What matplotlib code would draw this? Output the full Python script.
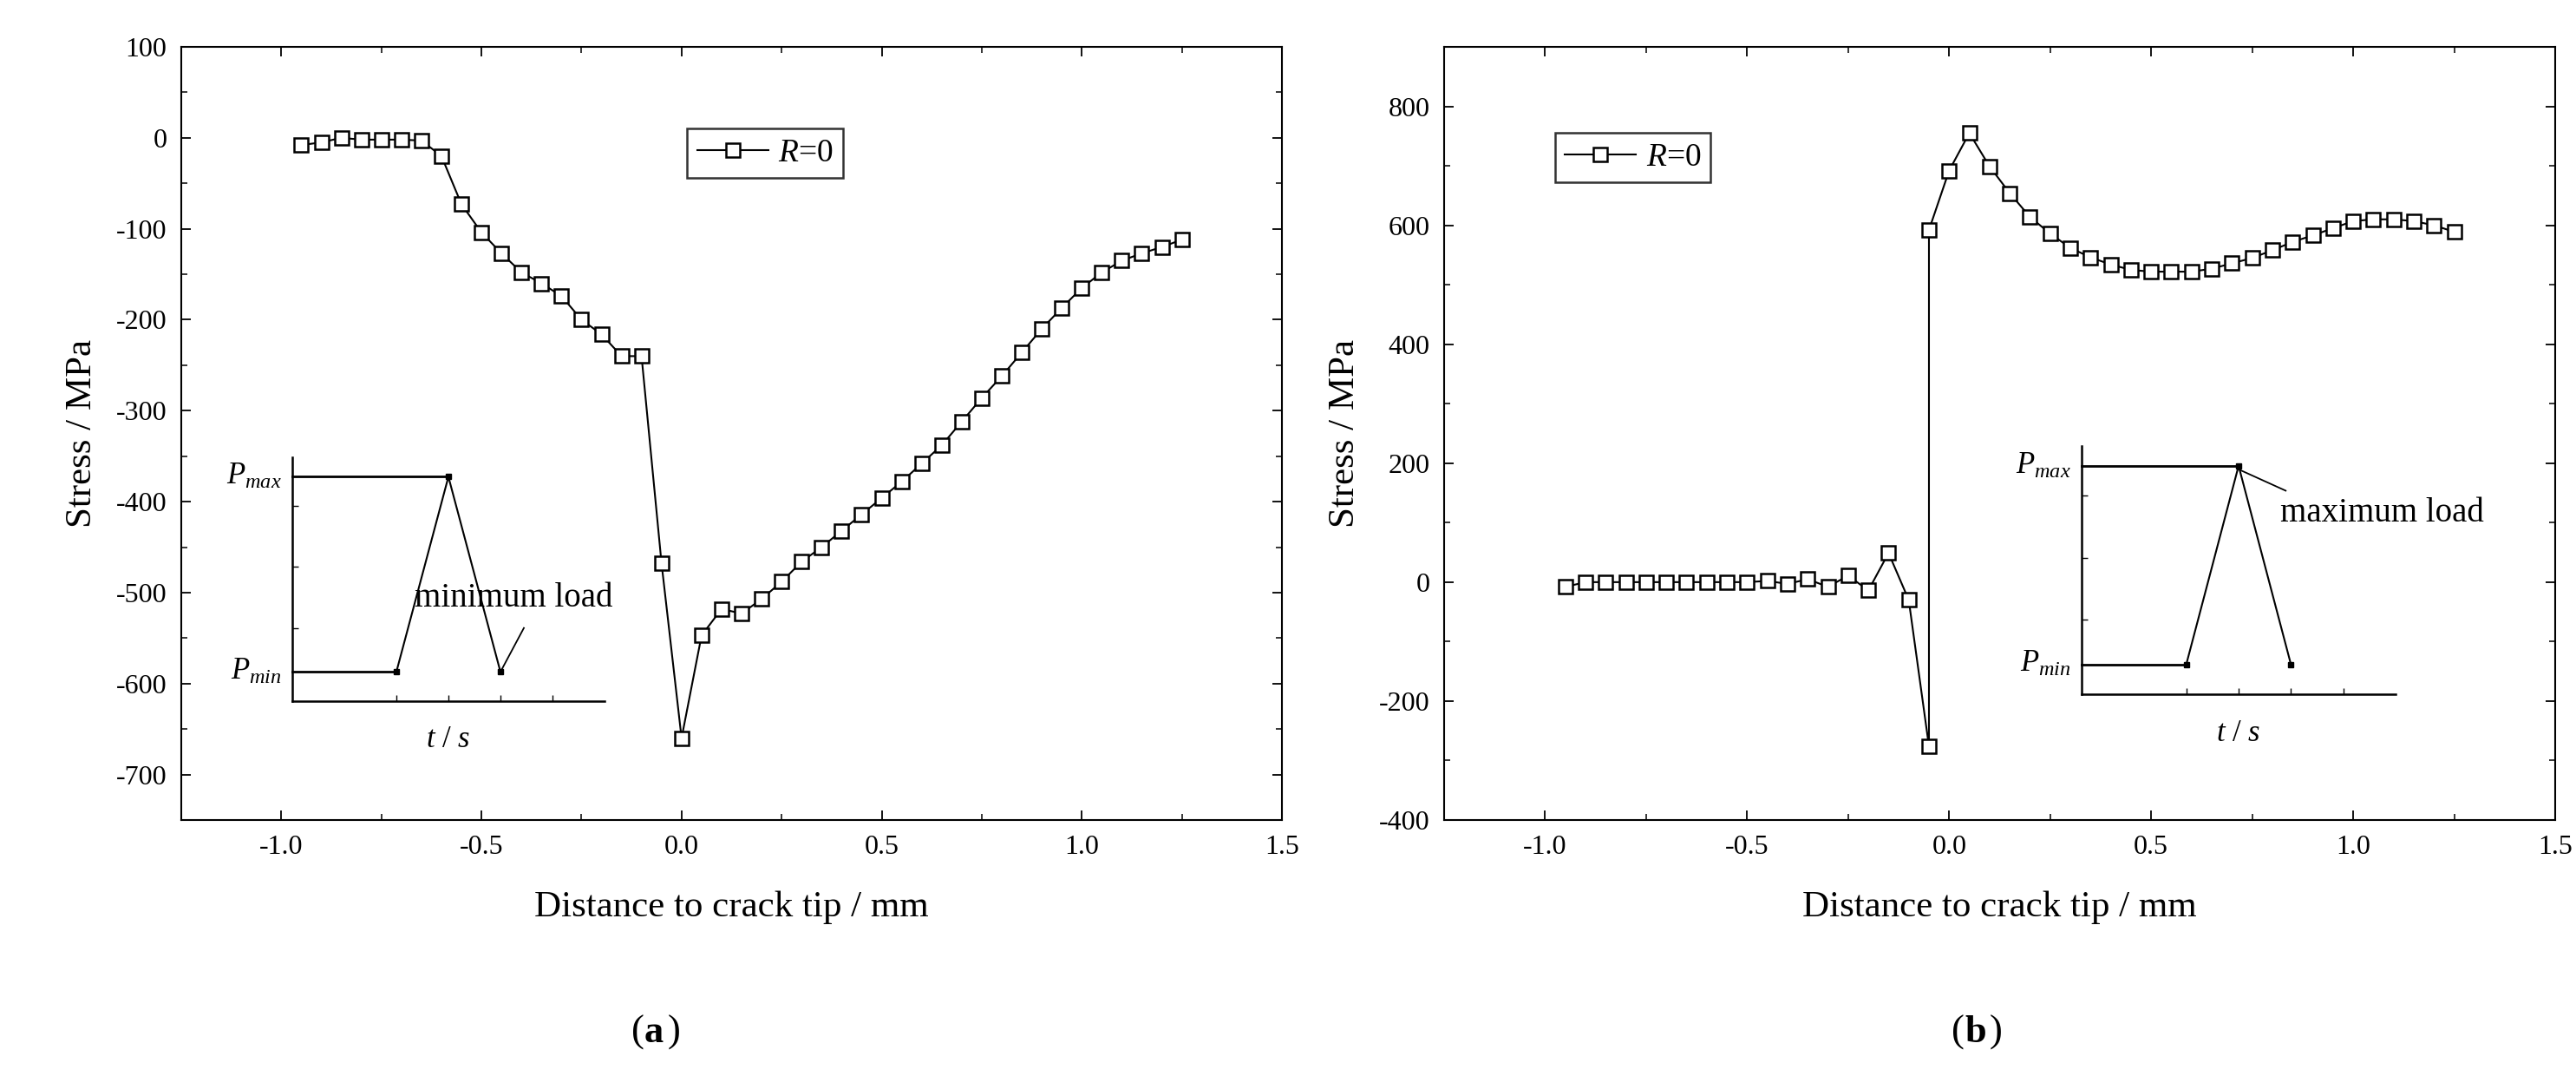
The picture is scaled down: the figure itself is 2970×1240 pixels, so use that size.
import numpy as np
import matplotlib
matplotlib.use("Agg")
import matplotlib.pyplot as plt
from matplotlib.ticker import MultipleLocator

plt.rcParams['font.family'] = ['Liberation Serif', 'DejaVu Serif']
plt.rcParams['mathtext.fontset'] = 'custom'
plt.rcParams['mathtext.it'] = 'Liberation Serif:italic'
plt.rcParams['mathtext.rm'] = 'Liberation Serif'
plt.rcParams['axes.unicode_minus'] = False

# Panel (a) data
xa = [-0.95,-0.9,-0.85,-0.8,-0.75,-0.7,-0.65,-0.6,-0.55,-0.5,-0.45,-0.4,-0.35,-0.3,-0.25,-0.2,-0.15,-0.1,-0.05,
      0.0,0.05,0.1,0.15,0.2,0.25,0.3,0.35,0.4,0.45,0.5,0.55,0.6,0.65,0.7,0.75,0.8,0.85,0.9,0.95,1.0,1.05,1.1,1.15,1.2,1.25]
ya = [-8,-5,0,-2,-2,-2,-3,-20,-73,-104,-127,-148,-160,-174,-200,-216,-240,-240,-468,
      -660,-547,-518,-523,-507,-488,-466,-450,-432,-414,-396,-378,-358,-338,-312,-286,-262,-236,-210,-187,-165,-148,-135,-127,-120,-112]
# Panel (b) data
xb = [-0.95,-0.9,-0.85,-0.8,-0.75,-0.7,-0.65,-0.6,-0.55,-0.5,-0.45,-0.4,-0.35,-0.3,-0.25,-0.2,-0.15,-0.1,-0.05,-0.05,
      0.0,0.05,0.1,0.15,0.2,0.25,0.3,0.35,0.4,0.45,0.5,0.55,0.6,0.65,0.7,0.75,0.8,0.85,0.9,0.95,1.0,1.05,1.1,1.15,1.2,1.25]
yb = [-8,0,0,0,0,0,0,0,0,0,2,-3,5,-8,11,-14,49,-30,-276,592,
      692,755,699,654,614,586,562,546,534,525,522,522,522,527,536,545,558,572,583,595,607,610,610,607,600,589]

# Inset schematic
t_ins = [2, 3, 4]
p_ins = [0.12, 0.92, 0.12]

W, H = 2970, 1240
fig = plt.figure(figsize=(W/100, H/100), dpi=100)

def fr(l, r, t, b):
    return [l/W, 1-b/H, (r-l)/W, (b-t)/H]

def style(ax):
    ax.tick_params(which='both', direction='in', top=True, right=True, labelsize=23)
    ax.tick_params(which='major', length=8, width=1.3, pad=12)
    ax.tick_params(which='minor', length=5, width=1.1)
    for s in ax.spines.values():
        s.set_linewidth(1.5)
    ax.set_xlabel('Distance to crack tip / mm', fontsize=31, labelpad=26)
    ax.set_ylabel('Stress / MPa', fontsize=31, labelpad=14)

axa = fig.add_axes(fr(209, 1478, 54, 945))
axa.plot(xa, ya, '-s', color='black', mfc='white', mec='black', ms=11, mew=1.8, lw=1.5, label='$R$=0')
axa.set_xlim(-1.25, 1.5); axa.set_ylim(-750, 100)
axa.xaxis.set_major_locator(MultipleLocator(0.5)); axa.xaxis.set_minor_locator(MultipleLocator(0.25))
axa.yaxis.set_major_locator(MultipleLocator(100)); axa.yaxis.set_minor_locator(MultipleLocator(50))
style(axa)
axa.legend(loc='upper left', bbox_to_anchor=(0.445, 0.915), fontsize=27, frameon=True, fancybox=False,
           edgecolor='black', handlelength=2.2, borderpad=0.3, handletextpad=0.3).get_frame().set_linewidth(1.8)

axb = fig.add_axes(fr(1665, 2946, 54, 945))
axb.plot(xb, yb, '-s', color='black', mfc='white', mec='black', ms=11, mew=1.8, lw=1.5, label='$R$=0')
axb.set_xlim(-1.25, 1.5); axb.set_ylim(-400, 900)
axb.xaxis.set_major_locator(MultipleLocator(0.5)); axb.xaxis.set_minor_locator(MultipleLocator(0.25))
axb.yaxis.set_major_locator(MultipleLocator(200)); axb.yaxis.set_minor_locator(MultipleLocator(100))
style(axb)
axb.legend(loc='upper left', bbox_to_anchor=(0.085, 0.91), fontsize=27, frameon=True, fancybox=False,
           edgecolor='black', handlelength=2.2, borderpad=0.3, handletextpad=0.3).get_frame().set_linewidth(1.8)

def inset(l, r, t, b, text, txy, arrow):
    ax = fig.add_axes(fr(l, r, t, b))
    ax.set_xlim(0, 6); ax.set_ylim(0, 1)
    ax.patch.set_alpha(0)
    for s in ['top', 'right']:
        ax.spines[s].set_visible(False)
    for s in ['left', 'bottom']:
        ax.spines[s].set_linewidth(1.8)
    ax.set_xticks([2, 3, 4, 5]); ax.set_yticks([0.3, 0.55, 0.8])
    ax.set_xticklabels([]); ax.set_yticklabels([])
    ax.tick_params(direction='in', length=5, width=1)
    ax.plot(t_ins, p_ins, color='black', lw=1.5)
    ax.plot([0, t_ins[0]], [p_ins[0], p_ins[0]], color='black', lw=2)
    ax.plot([0, t_ins[1]], [p_ins[1], p_ins[1]], color='black', lw=2)
    ax.plot(t_ins, p_ins, 's', color='black', ms=4)
    ax.text(-0.2, p_ins[1], '$P_{max}$', ha='right', va='center', fontsize=25)
    ax.text(-0.2, p_ins[0], '$P_{min}$', ha='right', va='center', fontsize=25)
    ax.text(3, -0.1, '$t$ / $s$', ha='center', va='top', fontsize=25)
    ax.text(txy[0], txy[1], text, ha='left', va='center', fontsize=28)
    ax.plot(arrow[0], arrow[1], color='black', lw=1.3)
    for ln in ax.lines:
        ln.set_clip_on(False)
    return ax

inset(337, 697, 527, 808, 'minimum load', (2.35, 0.42), ([4, 4.45], [0.12, 0.30]))
inset(2400, 2762, 514, 800, 'maximum load', (3.8, 0.73), ([3, 3.9], [0.906, 0.82]))

fig.text(743/W, 1-1190/H, '(', ha='right', va='center', fontsize=32)
fig.text(743/W, 1-1190/H, 'a', ha='left', va='center', fontsize=32, fontweight='bold')
fig.text(770/W, 1-1190/H, ')', ha='left', va='center', fontsize=32)
fig.text(2265/W, 1-1190/H, '(', ha='right', va='center', fontsize=32)
fig.text(2265/W, 1-1190/H, 'b', ha='left', va='center', fontsize=32, fontweight='bold')
fig.text(2294/W, 1-1190/H, ')', ha='left', va='center', fontsize=32)

fig.savefig('out.png', dpi=100, facecolor='white')
